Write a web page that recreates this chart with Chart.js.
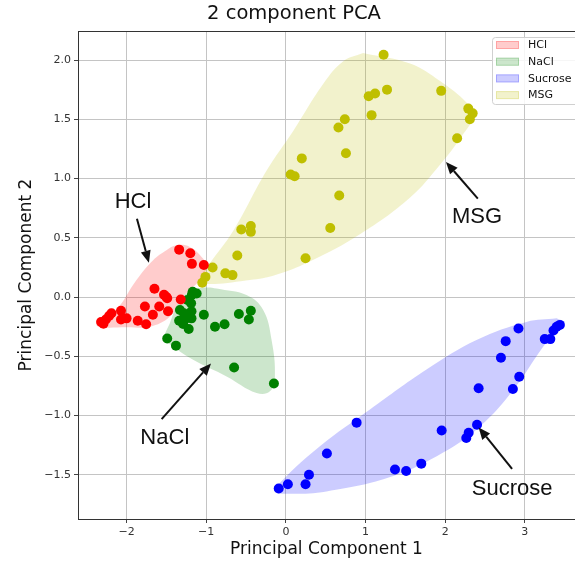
<!DOCTYPE html>
<html>
<head>
<meta charset="utf-8">
<script src="https://cdn.jsdelivr.net/npm/chart.js@4.4.1/dist/chart.umd.min.js"></script>
<style>
  html, body { margin: 0; padding: 0; background: #fff; overflow: hidden; }
  canvas { display: block; }
</style>
</head>
<body>
<canvas id="pca-chart" width="575" height="561"></canvas>
<script>
// points
const hclX = [-1.34, -1.20, -1.18, -1.03, -1.65, -1.53, -1.49, -1.32, -1.77, -1.59, -1.48, -1.67, -2.07, -2.19, -2.22, -2.00, -2.07, -2.32, -2.26, -2.29, -1.86, -1.755, -1.50];
const hclY = [0.40, 0.37, 0.28, 0.27, 0.07, 0.02, -0.01, -0.02, -0.08, -0.08, -0.12, -0.15, -0.115, -0.137, -0.16, -0.18, -0.19, -0.21, -0.19, -0.225, -0.20, -0.23, 0.00];

const naclX = [-1.17, -1.18, -1.12, -1.235, -1.19, -1.33, -1.185, -1.28, -1.185, -1.25, -1.34, -1.29, -1.22, -1.03, -0.89, -0.77, -0.59, -0.44, -0.465, -1.49, -1.38, -0.65, -0.15];
const naclY = [0.045, 0.02, 0.03, -0.025, -0.053, -0.11, -0.12, -0.137, -0.18, -0.18, -0.20, -0.227, -0.27, -0.15, -0.25, -0.23, -0.143, -0.115, -0.19, -0.35, -0.41, -0.594, -0.73];

const sucroseX = [-0.09, 0.025, 0.247, 0.29, 0.515, 0.888, 1.37, 1.51, 1.70, 1.956, 2.265, 2.295, 2.40, 2.42, 2.85, 2.93, 2.70, 2.76, 2.92, 3.25, 3.32, 3.36, 3.40, 3.44];
const sucroseY = [-1.616, -1.58, -1.58, -1.50, -1.32, -1.06, -1.456, -1.468, -1.406, -1.126, -1.19, -1.145, -1.078, -0.77, -0.776, -0.672, -0.513, -0.372, -0.266, -0.355, -0.355, -0.283, -0.25, -0.235];

const msgX = [-1.05, -1.01, -0.92, -0.76, -0.67, -0.61, -0.56, -0.44, -0.44, 0.247, 0.557, 0.67, 0.06, 0.11, 0.20, 0.754, 0.66, 0.74, 1.076, 1.04, 1.12, 1.27, 1.227, 1.95, 2.29, 2.345, 2.31, 2.15];
const msgY = [0.12, 0.17, 0.25, 0.20, 0.185, 0.35, 0.57, 0.60, 0.55, 0.328, 0.582, 0.857, 1.034, 1.02, 1.17, 1.213, 1.43, 1.50, 1.535, 1.695, 1.717, 1.75, 2.045, 1.74, 1.59, 1.55, 1.50, 1.34];

// shaded regions round each group
const hclHullX = [-2.38, -2.13, -1.876, -1.667, -1.50, -1.375, -1.206, -1.04, -0.996, -1.08, -1.206, -1.33, -1.457, -1.71, -2.0, -2.34, -2.38];
const hclHullY = [-0.235, -0.11, 0.143, 0.311, 0.395, 0.437, 0.423, 0.325, 0.254, 0.143, 0.059, -0.025, -0.166, -0.25, -0.255, -0.255, -0.235];

const naclHullX = [-0.87, -0.494, -0.285, -0.18, -0.138, -0.20, -0.368, -0.745, -1.165, -1.416, -1.52, -1.457, -1.33, -1.165, -1.0, -0.87];
const naclHullY = [0.073, 0.017, -0.109, -0.36, -0.67, -0.796, -0.81, -0.67, -0.53, -0.418, -0.347, -0.221, -0.025, 0.059, 0.08, 0.073];

const sucroseHullX = [3.40, 3.02, 2.40, 1.77, 1.055, 0.427, -0.034, -0.14, 0.01, 0.51, 1.35, 1.98, 2.44, 2.86, 3.23, 3.44, 3.48, 3.40];
const sucroseHullY = [-0.18, -0.21, -0.36, -0.61, -0.95, -1.26, -1.54, -1.64, -1.66, -1.64, -1.51, -1.31, -1.09, -0.78, -0.42, -0.25, -0.21, -0.18];

const msgHullX = [0.97, 1.56, 1.94, 2.27, 2.36, 2.20, 1.94, 1.56, 0.93, 0.30, -0.16, -0.50, -1.00, -1.08, -0.96, -0.66, -0.24, 0.09, 0.47, 0.72, 0.97];
const msgHullY = [2.06, 1.97, 1.82, 1.64, 1.54, 1.35, 1.12, 0.84, 0.53, 0.30, 0.18, 0.14, 0.11, 0.15, 0.28, 0.56, 1.07, 1.40, 1.80, 1.99, 2.06];

const groupNames = ['HCl', 'NaCl', 'Sucrose', 'MSG'];
const groupColors = ['rgb(255,0,0)', 'rgb(0,128,0)', 'rgb(0,0,255)', 'rgb(191,191,0)'];
const fillColors = ['rgba(255,0,0,0.2)', 'rgba(0,128,0,0.2)', 'rgba(0,0,255,0.2)', 'rgba(191,191,0,0.2)'];

// labelled arrows: text position, arrow tail, arrow tip (data units)
const noteText = ['HCl', 'MSG', 'NaCl', 'Sucrose'];
const noteAt = [[-1.92, 0.80], [2.40, 0.68], [-1.52, -1.185], [2.84, -1.62]];
const noteTail = [[-1.87, 0.66], [2.41, 0.83], [-1.56, -1.03], [2.84, -1.45]];
const noteTip = [[-1.72, 0.29], [2.01, 1.14], [-0.94, -0.56], [2.42, -1.10]];

function toPoints(xs, ys) {
    return xs.map((x, i) => ({x: x, y: ys[i]}));
}

const pointSets = [[hclX, hclY], [naclX, naclY], [sucroseX, sucroseY], [msgX, msgY]];
const hullSets = [[hclHullX, hclHullY], [naclHullX, naclHullY], [sucroseHullX, sucroseHullY], [msgHullX, msgHullY]];

const datasets = [];
hullSets.forEach((h, i) => {
    datasets.push({
        label: groupNames[i] + ' region',
        data: toPoints(h[0], h[1]),
        showLine: true,
        fill: 'shape',
        backgroundColor: fillColors[i],
        borderColor: 'transparent',
        borderWidth: 1,
        tension: 0.4,
        pointRadius: 0,
        order: 2
    });
});
pointSets.forEach((p, i) => {
    datasets.push({
        label: groupNames[i],
        data: toPoints(p[0], p[1]),
        backgroundColor: groupColors[i],
        borderColor: groupColors[i],
        pointRadius: 5,
        borderWidth: 0,
        order: 1
    });
});

const fmt = v => v.toString().replace('-', '\u2212');

const decor = {
    id: 'decor',
    afterDraw(chart) {
        const ctx = chart.ctx;
        const a = chart.chartArea;
        const xs = chart.scales.x, ys = chart.scales.y;
        ctx.save();
        // top spine
        ctx.strokeStyle = '#333';
        ctx.lineWidth = 1;
        ctx.beginPath();
        ctx.moveTo(a.left, a.top + 0.5);
        ctx.lineTo(a.right, a.top + 0.5);
        ctx.stroke();

        // titles
        ctx.fillStyle = '#111';
        ctx.textAlign = 'center';
        ctx.textBaseline = 'middle';
        ctx.font = '19.5px "DejaVu Sans"';
        ctx.fillText('2 component PCA', 294, 14);
        ctx.font = '17px "DejaVu Sans"';
        ctx.fillText('Principal Component 1', (a.left + a.right) / 2, 550);
        ctx.save();
        ctx.translate(27, (a.top + a.bottom) / 2);
        ctx.rotate(-Math.PI / 2);
        ctx.fillText('Principal Component 2', 0, 0);
        ctx.restore();

        // labelled arrows
        ctx.font = '22px "Liberation Sans"';
        noteText.forEach((t, i) => {
            ctx.fillStyle = '#111';
            ctx.fillText(t, xs.getPixelForValue(noteAt[i][0]), ys.getPixelForValue(noteAt[i][1]));
            const x0 = xs.getPixelForValue(noteTail[i][0]), y0 = ys.getPixelForValue(noteTail[i][1]);
            const x1 = xs.getPixelForValue(noteTip[i][0]), y1 = ys.getPixelForValue(noteTip[i][1]);
            const ang = Math.atan2(y1 - y0, x1 - x0);
            const hl = 12, hw = 5;
            const bx = x1 - hl * Math.cos(ang), by = y1 - hl * Math.sin(ang);
            ctx.strokeStyle = '#111';
            ctx.lineWidth = 2;
            ctx.beginPath();
            ctx.moveTo(x0, y0);
            ctx.lineTo(bx, by);
            ctx.stroke();
            ctx.beginPath();
            ctx.moveTo(x1, y1);
            ctx.lineTo(bx + hw * Math.sin(ang), by - hw * Math.cos(ang));
            ctx.lineTo(bx - hw * Math.sin(ang), by + hw * Math.cos(ang));
            ctx.closePath();
            ctx.fill();
        });

        // legend box
        const lx = 492, ly = 37;
        ctx.fillStyle = 'rgba(255,255,255,0.85)';
        ctx.strokeStyle = '#d0d0d0';
        ctx.lineWidth = 1;
        ctx.beginPath();
        ctx.roundRect(lx + 0.5, ly + 0.5, 100, 67, 3);
        ctx.fill();
        ctx.stroke();
        ctx.font = '11px "DejaVu Sans"';
        ctx.textAlign = 'left';
        groupNames.forEach((n, i) => {
            const cy = 45 + i * 16.7;
            ctx.fillStyle = fillColors[i];
            ctx.strokeStyle = fillColors[i];
            ctx.fillRect(496, cy - 4, 23, 8);
            ctx.strokeRect(496.5, cy - 3.5, 22, 7);
            ctx.fillStyle = '#111';
            ctx.fillText(n, 528, cy + 0.5);
        });
        ctx.restore();
    }
};

new Chart(document.getElementById('pca-chart'), {
    type: 'scatter',
    data: { datasets: datasets },
    options: {
        responsive: false,
        animation: false,
        devicePixelRatio: 1,
        layout: { autoPadding: false, padding: { top: 31, left: 0, right: 0, bottom: 0 } },
        plugins: {
            legend: { display: false },
            tooltip: { enabled: false },
            title: { display: false }
        },
        scales: {
            x: {
                type: 'linear',
                min: -2.61,
                max: 3.63,
                afterFit: s => { s.height = 42; s.paddingLeft = 0; s.paddingRight = 0; },
                grid: { color: '#c4c4c4', tickColor: '#444', tickLength: 4 },
                border: { color: '#333', width: 1 },
                ticks: {
                    stepSize: 1,
                    includeBounds: false,
                    padding: 3,
                    color: '#333',
                    font: { family: 'DejaVu Sans', size: 11 },
                    callback: v => fmt(v)
                }
            },
            y: {
                type: 'linear',
                min: -1.873,
                max: 2.245,
                afterFit: s => { s.width = 78; s.paddingTop = 0; s.paddingBottom = 0; },
                grid: { color: '#c4c4c4', tickColor: '#444', tickLength: 4 },
                border: { color: '#333', width: 1 },
                ticks: {
                    stepSize: 0.5,
                    includeBounds: false,
                    padding: 3,
                    color: '#333',
                    font: { family: 'DejaVu Sans', size: 11 },
                    callback: v => fmt(v.toFixed(1))
                }
            }
        }
    },
    plugins: [decor]
});
</script>
</body>
</html>
